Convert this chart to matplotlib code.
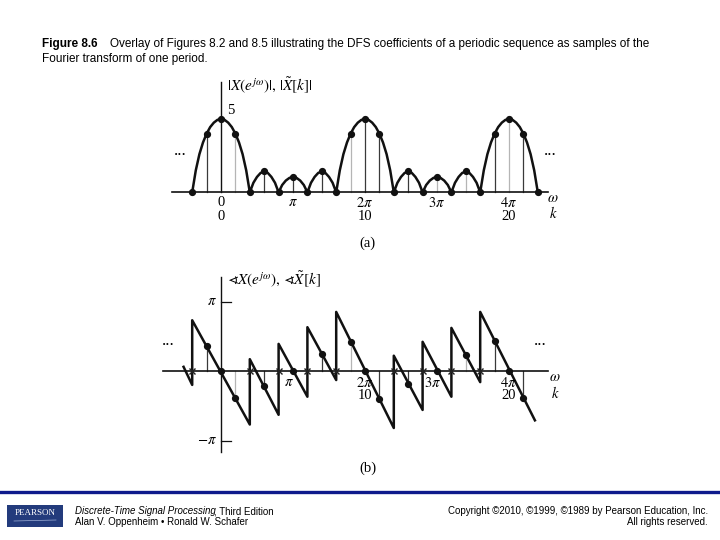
import numpy as np
import matplotlib
matplotlib.use("Agg")
import matplotlib.pyplot as plt
from matplotlib.lines import Line2D
from matplotlib.patches import Rectangle

plt.rcParams['mathtext.fontset'] = 'stix'
plt.rcParams['font.family'] = ['Liberation Serif', 'DejaVu Serif']

# |X(e^jw)| over one period, k = 0..10 in quarter steps
mag_period = np.array([5.0, 4.94, 4.75, 4.45, 4.0, 3.4, 2.6, 1.5, 0.0,
                       0.65, 1.05, 1.32, 1.42, 1.32, 1.05, 0.65, 0.0,
                       0.5, 0.8, 0.98, 1.05, 0.98, 0.8, 0.5, 0.0,
                       0.65, 1.05, 1.32, 1.42, 1.32, 1.05, 0.65, 0.0,
                       1.5, 2.6, 3.4, 4.0, 4.45, 4.75, 4.94, 5.0])
steps_per_k = 4
mag_light_k = [1, 9, 15, 17, 20]

# phase curve corners (k, phase / pi)
phase_k = [-2.6, -2, -2, 2, 2, 4, 4, 6, 6, 8, 8, 12, 12, 14, 14, 16, 16, 18, 18, 21.8]
phase_val = [0.06, -0.2, 0.73, -0.77, 0.17, -0.63, 0.39, -0.37, 0.63, -0.13, 0.85,
             -0.82, 0.22, -0.56, 0.42, -0.37, 0.62, -0.16, 0.85, -0.71]
# DFS phase samples
phase_dot_k = [-1, 0, 1, 3, 5, 7, 9, 10, 11, 13, 15, 17, 19, 20, 21]
phase_dot_val = [0.355, 0.0, -0.39, -0.22, 0.0, 0.24, 0.42, 0.0, -0.40, -0.18, 0.0, 0.23, 0.43, 0.0, -0.39]
phase_zero_k = [-2, 2, 4, 6, 8, 12, 14, 16, 18]
phase_light_k = [1, 9, 17]

xtick_k = [0, 5, 10, 15, 20]
w_labels = ['0', r'$\pi$', r'$2\pi$', r'$3\pi$', r'$4\pi$']
k_labels = ['0', '', '10', '', '20']

W, H = 720, 540
fig = plt.figure(figsize=(7.2, 5.4), dpi=100)
fig.patch.set_facecolor('white')

# pixel mapping: k=0 at x=221, 14.4 px per k
x0, dx = 221.0, 14.4
ax_left, ax_right = 150, 570
klim = ((ax_left - x0) / dx, (ax_right - x0) / dx)

curve_c = '#111111'
dark_c = '#3a3a3a'
light_c = '#b5b5b5'
fs = 10.5

# ---------------- (a) magnitude ----------------
ya0, ys = 192.3, 14.66
ta, ba = 75, 250
ax_a = fig.add_axes([ax_left / W, 1 - ba / H, (ax_right - ax_left) / W, (ba - ta) / H])
ax_a.set_xlim(klim)
ax_a.set_ylim((ya0 - ba) / ys, (ya0 - ta) / ys)
ax_a.axis('off')

idx = np.arange(-2 * steps_per_k, 22 * steps_per_k + 1)
k_curve = idx / steps_per_k
mag_curve = mag_period[idx % (10 * steps_per_k)]
dft_k = np.arange(-2, 23)
dft_mag = mag_period[(dft_k * steps_per_k) % (10 * steps_per_k)]

ax_a.plot([-3.4, 22.7], [0, 0], color=curve_c, lw=1.2, zorder=2)
ax_a.plot([0, 0], [0, 7.5], color=curve_c, lw=1.0, zorder=2)
for k, m in zip(dft_k, dft_mag):
    if m > 0 and k != 0:
        ax_a.plot([k, k], [0, m], color=light_c if k in mag_light_k else dark_c, lw=0.9, zorder=1)
ax_a.plot(k_curve, mag_curve, color=curve_c, lw=1.8, zorder=3, solid_joinstyle='round')
ax_a.plot(dft_k, dft_mag, 'o', color=curve_c, ms=4.2, zorder=4)

ax_a.text(0.45, 5.6, '5', fontsize=fs, ha='left', va='center')
ax_a.text(0.45, 7.25, r'$|X(e^{j\omega})|,\,|\tilde{X}[k]|$', fontsize=11, ha='left', va='center')
for k, wl, kl in zip(xtick_k, w_labels, k_labels):
    ax_a.text(k, -0.72, wl, fontsize=fs, ha='center', va='center')
    if kl:
        ax_a.text(k, -1.65, kl, fontsize=fs, ha='center', va='center')
ax_a.text(23.05, -0.4, r'$\omega$', fontsize=fs, ha='center', va='center')
ax_a.text(23.05, -1.38, r'$k$', fontsize=fs, ha='center', va='center')
ax_a.text(-2.85, 2.85, '...', fontsize=12, ha='center', va='center')
ax_a.text(22.85, 2.85, '...', fontsize=12, ha='center', va='center')
ax_a.text(10.2, -3.47, '(a)', fontsize=fs, ha='center', va='center')

# ---------------- (b) phase ----------------
yb0, ps = 371.0, 69.5
tb, bb = 270, 480
ax_b = fig.add_axes([ax_left / W, 1 - bb / H, (ax_right - ax_left) / W, (bb - tb) / H])
ax_b.set_xlim(klim)
ax_b.set_ylim((yb0 - bb) / ps, (yb0 - tb) / ps)
ax_b.axis('off')

ax_b.plot([-4.0, 22.7], [0, 0], color=curve_c, lw=1.2, zorder=2)
ax_b.plot([0, 0], [-1.165, 1.35], color=curve_c, lw=1.0, zorder=2)
for p in (1, -1):
    ax_b.plot([0, 0.7], [p, p], color=curve_c, lw=0.9)
for k, p in zip(phase_dot_k, phase_dot_val):
    if k != 0 and abs(p) > 0:
        ax_b.plot([k, k], [0, p], color=light_c if k in phase_light_k else dark_c, lw=0.9, zorder=1)
ax_b.plot(phase_k, phase_val, color=curve_c, lw=1.8, zorder=3)
ax_b.plot(phase_dot_k, phase_dot_val, 'o', color=curve_c, ms=4.2, zorder=4)
ax_b.plot(phase_zero_k, np.zeros(len(phase_zero_k)), 'x', color='#222222', ms=4.5, mew=1.0, zorder=4)

ax_b.text(-0.63, 1.0, r'$\pi$', fontsize=fs, ha='center', va='center')
ax_b.text(-0.3, -1.0, r'$-\pi$', fontsize=fs, ha='right', va='center')
ax_b.text(0.4, 1.31, r'$\sphericalangle X(e^{j\omega}),\,\sphericalangle\tilde{X}[k]$',
          fontsize=11, ha='left', va='center')
for k, wl, kl in zip(xtick_k[1:], w_labels[1:], k_labels[1:]):
    xk = k - 0.3 if k in (5, 15) else k
    ax_b.text(xk, -0.17, wl, fontsize=fs, ha='center', va='center')
    if kl:
        ax_b.text(k, -0.35, kl, fontsize=fs, ha='center', va='center')
ax_b.text(23.2, -0.1, r'$\omega$', fontsize=fs, ha='center', va='center')
ax_b.text(23.2, -0.31, r'$k$', fontsize=fs, ha='center', va='center')
ax_b.text(-3.68, 0.43, '...', fontsize=12, ha='center', va='center')
ax_b.text(22.2, 0.43, '...', fontsize=12, ha='center', va='center')
ax_b.text(10.2, -1.40, '(b)', fontsize=fs, ha='center', va='center')

# ---------------- header / footer ----------------
sans = ['Liberation Sans', 'DejaVu Sans']
fig.text(42 / W, 1 - 44 / H, 'Figure 8.6', fontsize=8.5, fontweight='bold',
         family=sans, ha='left', va='center')
fig.text(110 / W, 1 - 44 / H,
         'Overlay of Figures 8.2 and 8.5 illustrating the DFS coefficients of a periodic sequence as samples of the',
         fontsize=8.5, family=sans, ha='left', va='center')
fig.text(42 / W, 1 - 59 / H, 'Fourier transform of one period.', fontsize=8.5, family=sans,
         ha='left', va='center')

fig.add_artist(Line2D([0, 1], [1 - 492 / H, 1 - 492 / H], color='#0e1a8c', lw=2.4))
fig.add_artist(Rectangle((7 / W, 1 - 527 / H), 56 / W, 22 / H, color='#233b7c', lw=0))
fig.text(35 / W, 1 - 513 / H, 'PEARSON', fontsize=6.5, color='white', family=['Liberation Serif'],
         ha='center', va='center')
fig.add_artist(Line2D([14 / W, 56 / W], [1 - 521 / H, 1 - 520 / H], color='#9fb0d8', lw=0.5))

it = fig.text(75 / W, 1 - 514 / H, 'Discrete-Time Signal Processing', fontsize=7, style='italic',
              family=sans, ha='left', va='baseline')
fig.canvas.draw()
bb_it = it.get_window_extent()
fig.text((bb_it.x1 - 1.5) / W, 1 - 514 / H, ', Third Edition', fontsize=7, family=sans,
         ha='left', va='baseline')
fig.text(75 / W, 1 - 525 / H, 'Alan V. Oppenheim \u2022 Ronald W. Schafer', fontsize=7,
         family=sans, ha='left', va='baseline')
fig.text(708 / W, 1 - 514 / H, 'Copyright \u00a92010, \u00a91999, \u00a91989 by Pearson Education, Inc.',
         fontsize=7, family=sans, ha='right', va='baseline')
fig.text(708 / W, 1 - 525 / H, 'All rights reserved.', fontsize=7, family=sans,
         ha='right', va='baseline')

fig.savefig('out.png', dpi=100)
